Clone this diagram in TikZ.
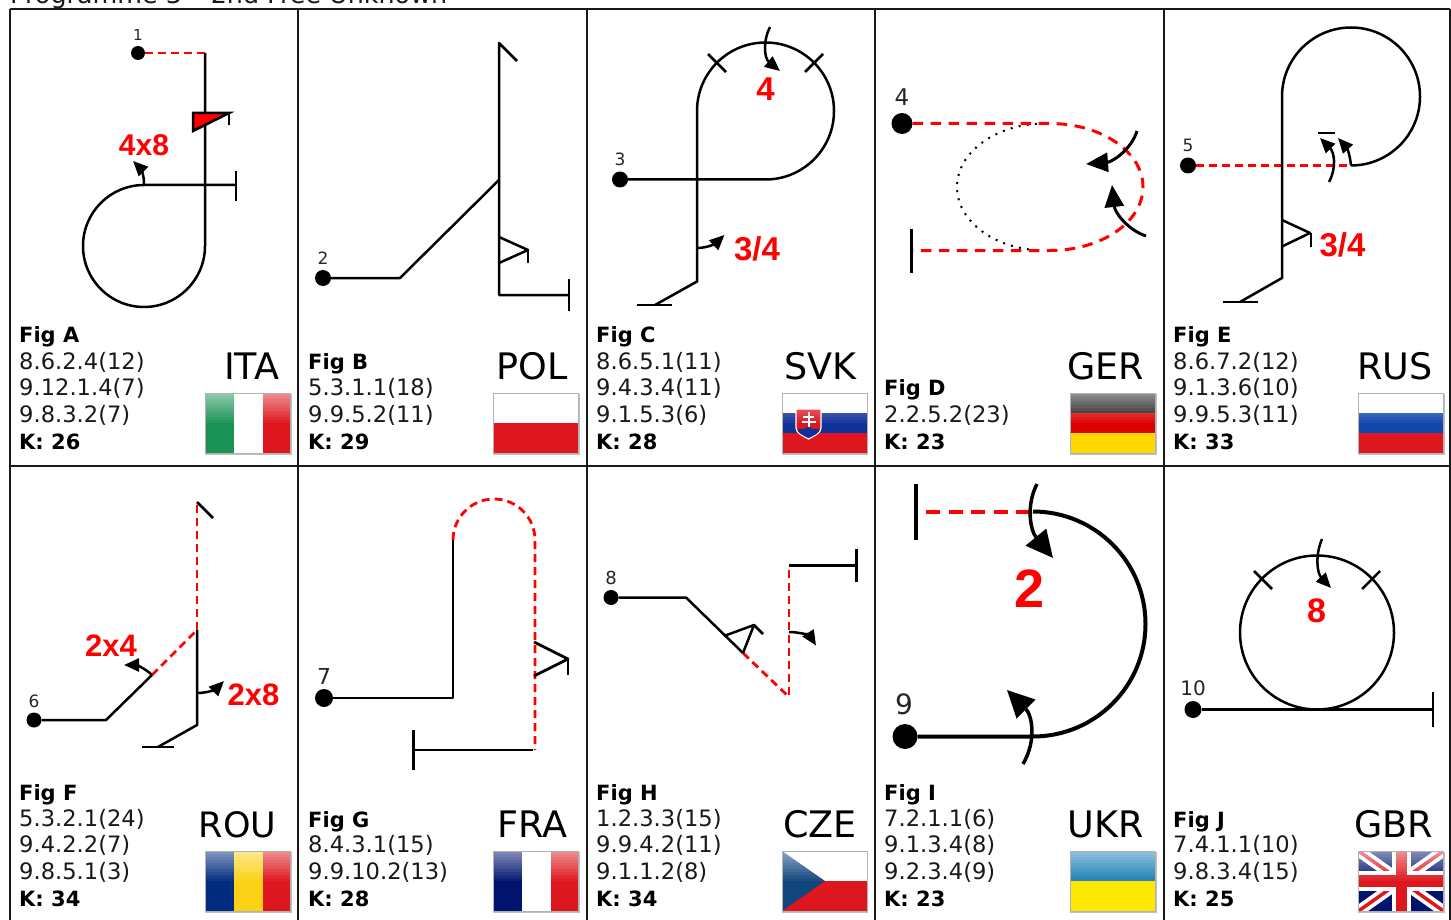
\documentclass[tikz,border=0pt]{standalone}
\usepackage{fontspec}
\setmainfont{DejaVu Sans}
\newfontfamily\arialf{Liberation Sans}
\usetikzlibrary{arrows.meta}
\definecolor{fred}{HTML}{DD171D}
\definecolor{fgreen}{HTML}{1A9256}
\definecolor{fblue}{HTML}{10309A}
\definecolor{fnavy}{HTML}{00146E}
\definecolor{gerred}{HTML}{DD0000}
\definecolor{geryel}{HTML}{FFD800}
\definecolor{rusblue}{HTML}{0F47AF}
\definecolor{roublue}{HTML}{002B7F}
\definecolor{rouyel}{HTML}{FCD116}
\definecolor{czeblue}{HTML}{11457E}
\definecolor{ukrblue}{HTML}{1A80B6}
\definecolor{ukryel}{HTML}{FFE800}
\tikzset{
  x=1pt,y=-1pt,
  grid/.style={line width=2pt,draw=black!90},
  ln/.style={line width=2.5pt,draw=black},
  red dash/.style={line width=2.8pt,draw=red,dash pattern=on 8pt off 5pt},
  turn/.style={line width=2.5pt,draw=black,-{Triangle[length=15pt,width=13pt]}},
  pt/.style={circle,fill=black,inner sep=0pt,draw=none},
  num/.style={inner sep=0pt,anchor=base,text=black!85},
  redlab/.style={inner sep=0pt,anchor=base,text=red},
  infoline/.style={inner sep=0pt,anchor=base west,font=\fontsize{22.6}{26}\selectfont,text=black!90},
  code/.style={inner sep=0pt,anchor=base east,font=\fontsize{36.5}{40}\selectfont},
}
\newcommand{\redfont}[1]{\fontsize{#1}{#1}\arialf\bfseries\selectfont}
\newcommand{\numfont}[1]{\fontsize{#1}{#1}\selectfont}
% name, x, K baseline, K text, Fig baseline, Fig text, reversed middle lines
\newcommand{\info}[7]{%
  \node[infoline,font=\fontsize{21}{26}\bfseries\selectfont,text=black] (#1k) at (#2,#3) {#4};
  \node[infoline,font=\fontsize{21}{26}\bfseries\selectfont,text=black] (#1f) at (#2,#5) {#6};
  \foreach \t [count=\i] in {#7} {
    \node[infoline] (#1l\i) at (#2,{#3-\i*26.6}) {\t};
  }
}
% x, y, content
\newcommand{\flag}[3]{%
  \begin{scope}[shift={(#1,#2)}]
    \fill[black,opacity=.25] (-0.5,1) rectangle (86,61.5);
    \begin{scope}
      \clip (0,0) rectangle (85,60);
      #3
      \foreach \k in {0,...,9} {
        \fill[white,opacity={0.5-\k*0.05}] (0,{\k*3}) rectangle (86,{\k*3+3});
      }
    \end{scope}
    \draw[black!30,line width=1pt] (0,0) rectangle (85,60);
  \end{scope}
}
\begin{document}
\begin{tikzpicture}
\useasboundingbox (0,0) rectangle (1451,920);
\fill[white] (0,0) rectangle (1451,920);
\begin{scope}
\clip (0,0) rectangle (1451,920);
\node[inner sep=0pt,anchor=base west,font=\fontsize{25.4}{27}\selectfont,text=black!90] (title) at (10,4) {Programme 3 – 2nd Free Unknown};
\end{scope}

% grid
\draw[grid] (10,9) -- (1450.2,9);
\draw[grid] (10,466) -- (1450.2,466);
\draw[grid] (10,9) -- (10,920);
\draw[grid] (298,9) -- (298,920);
\draw[grid] (586.5,9) -- (586.5,920);
\draw[grid] (875,9) -- (875,920);
\draw[grid] (1163.5,9) -- (1163.5,920);
\draw[grid] (1450.2,9) -- (1450.2,920);

% ---------- Fig A
\node[pt,minimum size=14pt] (d1) at (138,53) {};
\node[num,font=\numfont{15}] (n1) at (138,41) {1};
\coordinate (a1) at (205,53);
\coordinate (a2) at (205,246);
\coordinate (a3) at (144,185);
\draw[red dash] (d1) -- (a1);
\draw[ln] (a1) -- (a2) arc[start angle=0,end angle=-270,radius=61pt] -- (236,185);
\draw[ln] (236,171) -- (236,201);
\draw[ln,fill=red,line join=miter] (193,113) -- (229,113) -- (193,131) -- cycle;
\draw[ln] (229,113) -- (229,125);
\draw[turn] (a3) .. controls (144.5,175) and (140,168) .. (133,161);
\node[redlab,font=\redfont{30}] (la) at (144,156) {4x8};

% ---------- Fig B
\node[pt,minimum size=16pt] (d2) at (323,278) {};
\node[num,font=\numfont{17}] (n2) at (323,265) {2};
\draw[ln,line join=round] (d2) -- (400,278) -- (499,180);
\draw[ln,line join=round] (517,61) -- (499,43) -- (499,295) -- (569,295);
\draw[ln] (569,279) -- (569,311);
\draw[ln,line join=round] (499,237) -- (528,250) -- (499,263);
\draw[ln] (528,250) -- (528,263);

% ---------- Fig C
\node[pt,minimum size=16pt] (d3) at (620,179.5) {};
\node[num,font=\numfont{17}] (n3) at (620,166) {3};
\draw[ln] (d3) -- (765.5,179.5) arc[start angle=-90,end angle=180,radius=68.5pt] -- (697,281.5) -- (655,305);
\draw[ln] (637,305) -- (672,305);
\draw[ln] (708,54) -- (726,72);
\draw[ln] (805,72) -- (823,54);
\draw[turn] (770,27) .. controls (763,40) and (764,58) .. (780,71);
\draw[turn] (697,248) .. controls (708,248) and (716,243) .. (724.5,235);
\node[redlab,font=\redfont{33}] (lc1) at (765.5,101) {4};
\node[redlab,font=\redfont{33}] (lc2) at (757,260) {3/4};

% ---------- Fig D
\node[pt,minimum size=21pt] (d4) at (902,123.5) {};
\node[num,font=\numfont{23}] (n4) at (902,106) {4};
\draw[black,line width=2pt,dash pattern=on 2pt off 6.2pt] (1045,123.5) arc[start angle=90,end angle=262,x radius=88pt,y radius=63.5pt];
\draw[red dash,line width=3pt,dash pattern=on 10.5pt off 7.5pt] (d4) -- (1050,123.5) arc[start angle=90,end angle=-90,x radius=93pt,y radius=63.5pt] -- (912,250.5);
\draw[ln,line width=3pt] (911,229) -- (911,273);
\draw[turn,line width=3pt,-{Triangle[length=22pt,width=19pt]}] (1137,131) .. controls (1131,150) and (1112,162) .. (1086,164);
\draw[turn,line width=3pt,-{Triangle[length=22pt,width=19pt]}] (1146,236) .. controls (1128,230) and (1115,213) .. (1112,185);

% ---------- Fig E
\node[pt,minimum size=16pt] (d5) at (1188,165.5) {};
\node[num,font=\numfont{17}] (n5) at (1188,152) {5};
\draw[red dash] (d5) -- (1351,165.5);
\draw[ln] (1351,165.5) arc[start angle=-90,end angle=180,radius=69pt] -- (1282,278) -- (1240,302);
\draw[ln] (1223,302) -- (1258,302);
\draw[ln,line join=round] (1282,220) -- (1310,233) -- (1282,246.5);
\draw[ln] (1311,233) -- (1311,247);
\draw[turn] (1351,165.5) .. controls (1350,155) and (1347,148) .. (1338,138);
\draw[turn] (1329,182) .. controls (1337,167) and (1334,152) .. (1320,138);
\draw[ln] (1318,133) -- (1335,133);
\node[redlab,font=\redfont{33}] (le) at (1342.5,256) {3/4};

% ---------- Fig F
\node[pt,minimum size=15pt] (d6) at (34,720) {};
\node[num,font=\numfont{17}] (n6) at (34,707) {6};
\draw[ln,line join=round] (d6) -- (106,720) -- (152,675);
\draw[red dash] (152,675) -- (197,630);
\draw[red dash] (197,630) -- (197,503);
\draw[ln,line join=round] (197,630) -- (197,725) -- (158,747);
\draw[ln] (142,747) -- (174,747);
\draw[ln] (197,502) -- (213,518);
\draw[turn] (152,675) .. controls (146,669) and (136,665) .. (124,665);
\draw[turn] (197,693) .. controls (208,693) and (216,689) .. (224,681);
\node[redlab,font=\redfont{31}] (lf1) at (111,656) {2x4};
\node[redlab,font=\redfont{31}] (lf2) at (253.5,705) {2x8};

% ---------- Fig G
\node[pt,minimum size=18pt] (d7) at (324,698) {};
\node[num,font=\numfont{22}] (n7) at (324,684) {7};
\draw[ln,line join=round,line width=2.8pt] (d7) -- (453,698) -- (453,540);
\draw[red dash] (453,540) arc[start angle=180,end angle=0,radius=41pt] -- (535,750);
\draw[ln,line width=2.8pt] (533,750) -- (413,750);
\draw[ln,line width=3pt] (413,730) -- (413,770);
\draw[ln,line join=round,line width=2.8pt] (534,642) -- (568,659) -- (534,676);
\draw[ln] (568,659) -- (568,675);

% ---------- Fig H
\node[pt,minimum size=15pt] (d8) at (611,597.5) {};
\node[num,font=\numfont{18}] (n8) at (611,584) {8};
\draw[ln,line join=round] (d8) -- (686,597.5) -- (743,653);
\draw[red dash] (743,653) -- (789,697);
\draw[red dash] (789,570) -- (789,698);
\draw[ln] (789,565.5) -- (856,565.5);
\draw[ln,line width=3pt] (856.5,549) -- (856.5,582);
\draw[ln,line join=round] (724,636) -- (754,625) -- (743,653);
\draw[ln] (754,625) -- (763,634);
\draw[turn] (789,632) .. controls (800,632) and (810,636) .. (816,645.5);

% ---------- Fig I
\node[pt,minimum size=25pt] (d9) at (905,736.5) {};
\node[num,font=\numfont{28}] (n9) at (904,714) {9};
\draw[ln,line width=4pt] (d9) -- (1033,736.5) arc[start angle=-90,end angle=90,radius=112.5pt];
\draw[red dash,line width=4pt,dash pattern=on 14pt off 8.5pt] (1030,511.5) -- (925,511.5);
\draw[ln,line width=4pt] (916,484) -- (916,540);
\draw[turn,line width=3.5pt,-{Triangle[length=27pt,width=26pt]}] (1037,484) .. controls (1026,505) and (1030,530) .. (1053,558);
\draw[turn,line width=3.5pt,-{Triangle[length=27pt,width=26pt]}] (1023,764) .. controls (1037,740) and (1032,715) .. (1007,690);
\node[redlab,font=\redfont{54}] (li) at (1030,607) {2};

% ---------- Fig J
\node[pt,minimum size=17pt] (d10) at (1193,709.5) {};
\node[num,font=\numfont{20}] (n10) at (1193,695) {10};
\draw[ln] (d10) -- (1433,709.5);
\draw[ln] (1433,692) -- (1433,727);
\node[ln,draw,circle,inner sep=0pt,minimum size=154pt] (c10) at (1317,632.5) {};
\draw[ln] (1254,571) -- (1272,589);
\draw[ln] (1362,589) -- (1380,571);
\draw[turn] (1322,539) .. controls (1315,555) and (1317,573) .. (1331,588);
\node[redlab,font=\redfont{34}] (lj) at (1316.5,622) {8};

% ---------- texts
\info{A}{19}{449}{K: 26}{342}{Fig A}{9.8.3.2(7),9.12.1.4(7),8.6.2.4(12)}
\info{B}{308}{449}{K: 29}{369}{Fig B}{9.9.5.2(11),5.3.1.1(18)}
\info{C}{596}{449}{K: 28}{342}{Fig C}{9.1.5.3(6),9.4.3.4(11),8.6.5.1(11)}
\info{D}{884}{449}{K: 23}{395}{Fig D}{2.2.5.2(23)}
\info{E}{1173}{449}{K: 33}{342}{Fig E}{9.9.5.3(11),9.1.3.6(10),8.6.7.2(12)}
\info{F}{19}{906}{K: 34}{800}{Fig F}{9.8.5.1(3),9.4.2.2(7),5.3.2.1(24)}
\info{G}{308}{906}{K: 28}{827}{Fig G}{9.9.10.2(13),8.4.3.1(15)}
\info{H}{596}{906}{K: 34}{800}{Fig H}{9.1.1.2(8),9.9.4.2(11),1.2.3.3(15)}
\info{I}{884}{906}{K: 23}{800}{Fig I}{9.2.3.4(9),9.1.3.4(8),7.2.1.1(6)}
\info{J}{1173}{906}{K: 25}{827}{Fig J}{9.8.3.4(15),7.4.1.1(10)}

\node[code] (cA) at (279.5,379) {ITA};
\node[code] (cB) at (568,379) {POL};
\node[code] (cC) at (857,379) {SVK};
\node[code] (cD) at (1144,379) {GER};
\node[code] (cE) at (1433,379) {RUS};
\node[code,font=\fontsize{35}{40}\selectfont] (cF) at (276.5,837) {ROU};
\node[code] (cG) at (568,837) {FRA};
\node[code] (cH) at (857,837) {CZE};
\node[code] (cI) at (1144,837) {UKR};
\node[code] (cJ) at (1433,837) {GBR};

% ---------- flags
\flag{205.5}{393}{%
  \fill[fgreen] (0,0) rectangle (28,60);
  \fill[white] (28,0) rectangle (57,60);
  \fill[fred] (57,0) rectangle (86,60);}
\flag{493.5}{393}{%
  \fill[white] (0,0) rectangle (86,30);
  \fill[fred] (0,30) rectangle (86,60);}
\flag{782}{393}{%
  \fill[white] (0,0) rectangle (86,20);
  \fill[fblue] (0,20) rectangle (86,40);
  \fill[fred] (0,40) rectangle (86,60);
  \draw[white,line width=1.2pt,fill=fred] (14,16) -- (39,16) -- (39,35) .. controls (39,40) and (32,43) .. (26.5,46) .. controls (21,43) and (14,40) .. (14,35) -- cycle;
  \fill[white] (25.5,19) rectangle (27.5,36);
  \fill[white] (21,23) rectangle (32,25);
  \fill[white] (19.5,28) rectangle (33.5,30);
  \begin{scope}
    \clip (15,16) -- (38,16) -- (38,35) .. controls (38,40) and (32,42.5) .. (26.5,45) .. controls (21,42.5) and (15,40) .. (15,35) -- cycle;
    \fill[fblue] (14,38) .. controls (18,35) and (21,35) .. (23,36) .. controls (25,33) and (28,33) .. (30,36) .. controls (33,35) and (36,35) .. (39,38) -- (39,47) -- (14,47) -- cycle;
  \end{scope}}
\flag{1070.5}{393}{%
  \fill[black!90] (0,0) rectangle (86,20);
  \fill[gerred] (0,20) rectangle (86,40);
  \fill[geryel] (0,40) rectangle (86,60);}
\flag{1358.5}{393}{%
  \fill[white] (0,0) rectangle (86,20);
  \fill[rusblue] (0,20) rectangle (86,40);
  \fill[fred] (0,40) rectangle (86,60);}
\flag{205.5}{851}{%
  \fill[roublue] (0,0) rectangle (28,60);
  \fill[rouyel] (28,0) rectangle (57,60);
  \fill[fred] (57,0) rectangle (86,60);}
\flag{493.5}{851}{%
  \fill[fnavy] (0,0) rectangle (28,60);
  \fill[white] (28,0) rectangle (57,60);
  \fill[fred] (57,0) rectangle (86,60);}
\flag{782}{851}{%
  \fill[white] (0,0) rectangle (85,30);
  \fill[fred] (0,30) rectangle (85,60);
  \fill[czeblue] (0,0) -- (43,30) -- (0,60) -- cycle;}
\flag{1070.5}{851}{%
  \fill[ukrblue] (0,0) rectangle (86,30);
  \fill[ukryel] (0,30) rectangle (86,60);}
\flag{1358.5}{851}{%
  \fill[fnavy] (0,0) rectangle (85,60);
  \draw[white,line width=11pt] (0,0) -- (85,60) (0,60) -- (85,0);
  \draw[fred,line width=3.5pt] (0,0) -- (85,60) (0,60) -- (85,0);
  \fill[white] (33,0) rectangle (52,60);
  \fill[white] (0,20) rectangle (85,40);
  \fill[fred] (37,0) rectangle (48,60);
  \fill[fred] (0,24) rectangle (85,36);}
\end{tikzpicture}
\end{document}
